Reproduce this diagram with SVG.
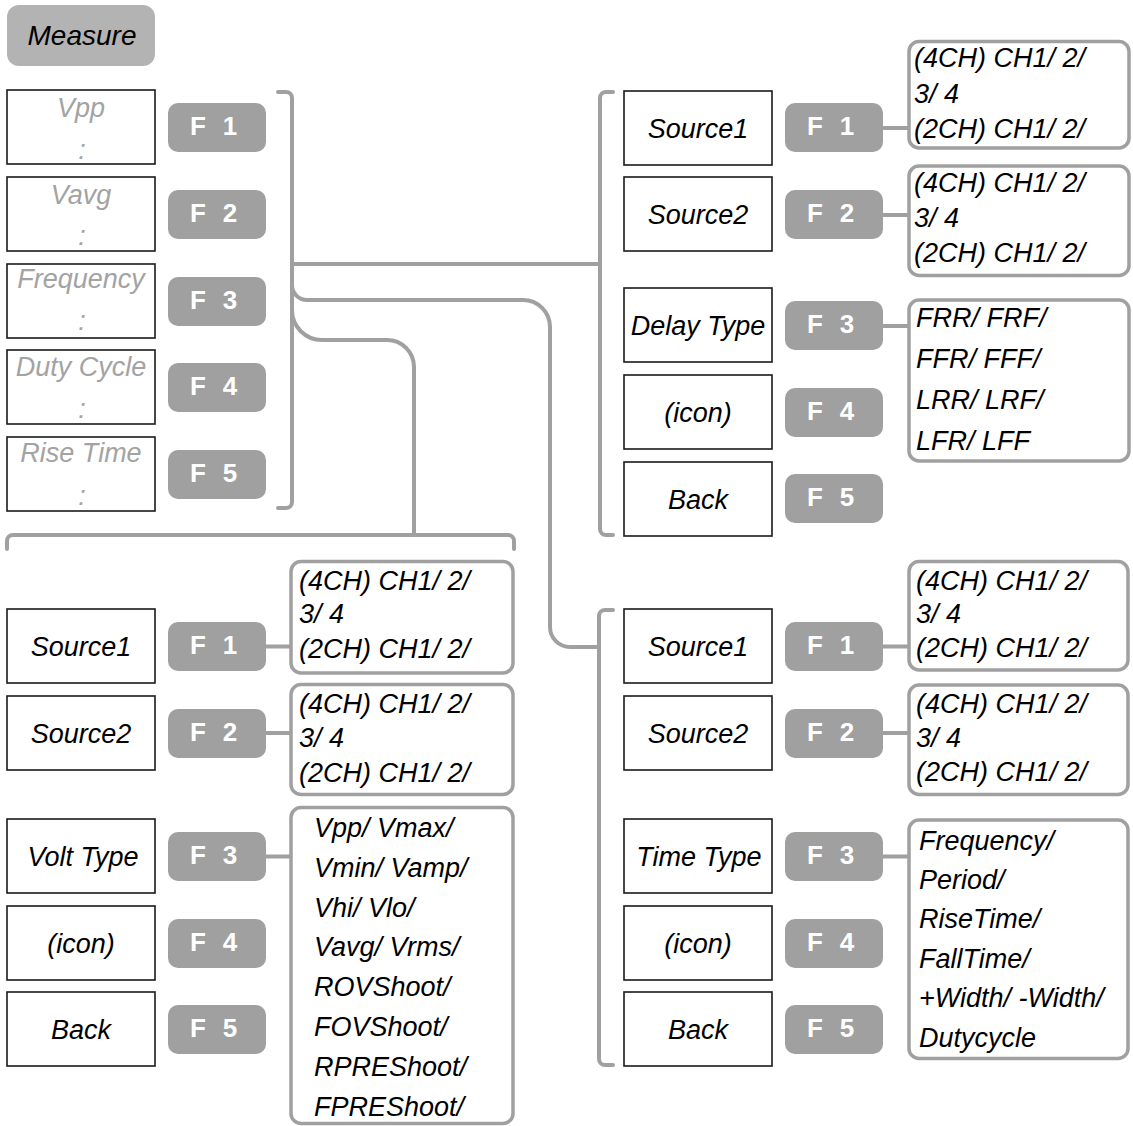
<svg xmlns="http://www.w3.org/2000/svg" width="1133" height="1126" viewBox="0 0 1133 1126">
<style>
text{font-family:"Liberation Sans",Arial,sans-serif}
.menu rect{fill:#fff;stroke:#1a1a1a;stroke-width:1.6}
.menu text{font-style:italic;font-size:27px;text-anchor:middle;fill:#000}
.dim text{fill:#a3a3a3}
.fkey rect{fill:#a0a0a0}
.fkey text{font-weight:bold;font-size:26px;fill:#fff;text-anchor:middle}
.opt rect{fill:#fff;stroke:#a0a0a0;stroke-width:3.5}
.opt text{font-style:italic;font-size:27px;fill:#000}
.conn path{fill:none;stroke:#a0a0a0;stroke-width:4;stroke-linecap:round}
</style>
<rect width="1133" height="1126" fill="#fff"/>

<g id="connectors" class="conn">
<path d="M278,92 H286 A6,6 0 0 1 292,98 V502 A6,6 0 0 1 286,508 H278"/>
<path d="M292,264 H600"/>
<path d="M613,92 H606 A6,6 0 0 0 600,98 V529 A6,6 0 0 0 606,535 H613"/>
<path d="M292,285 A15,15 0 0 0 307,300 H523 A27,27 0 0 1 550,327 V627 A20,20 0 0 0 570,647 H599"/>
<path d="M613,610 H605 A6,6 0 0 0 599,616 V1059 A6,6 0 0 0 605,1065 H613"/>
<path d="M292,310 A30,30 0 0 0 322,340 H387 A27,27 0 0 1 414,367 V535"/>
<path d="M7,549 V541 A6,6 0 0 1 13,535 H508 A6,6 0 0 1 514,541 V549"/>
<path d="M883,128 H909 M883,215 H909 M883,326 H909"/>
<path d="M266,646.5 H291 M266,733 H291 M266,856.5 H291"/>
<path d="M883,646.5 H909 M883,733 H909 M883,856.5 H909"/>
</g>

<g id="measure">
<rect x="7" y="5" width="148" height="61" rx="12" fill="#b3b3b3"/>
<text x="82" y="45" font-size="28" font-style="italic" text-anchor="middle" fill="#000">Measure</text>
</g>

<!-- top-left measurement menu -->
<g id="tl-vpp" class="menu dim"><rect x="7" y="90" width="148" height="74"/><text x="81" y="117">Vpp</text><text x="82" y="159">:</text></g>
<g id="tl-vavg" class="menu dim"><rect x="7" y="177" width="148" height="74"/><text x="81" y="204">Vavg</text><text x="82" y="245">:</text></g>
<g id="tl-freq" class="menu dim"><rect x="7" y="264" width="148" height="74"/><text x="81" y="288">Frequency</text><text x="82" y="330">:</text></g>
<g id="tl-duty" class="menu dim"><rect x="7" y="350" width="148" height="74"/><text x="81" y="376">Duty Cycle</text><text x="82" y="418">:</text></g>
<g id="tl-rise" class="menu dim"><rect x="7" y="437" width="148" height="74"/><text x="81" y="462">Rise Time</text><text x="82" y="505">:</text></g>

<g id="tl-f1" class="fkey"><rect x="168" y="103" width="98" height="49" rx="10"/><text y="134.5"><tspan x="198">F</tspan><tspan x="230">1</tspan></text></g>
<g id="tl-f2" class="fkey"><rect x="168" y="190" width="98" height="49" rx="10"/><text y="221.5"><tspan x="198">F</tspan><tspan x="230">2</tspan></text></g>
<g id="tl-f3" class="fkey"><rect x="168" y="277" width="98" height="49" rx="10"/><text y="308.5"><tspan x="198">F</tspan><tspan x="230">3</tspan></text></g>
<g id="tl-f4" class="fkey"><rect x="168" y="363" width="98" height="49" rx="10"/><text y="394.5"><tspan x="198">F</tspan><tspan x="230">4</tspan></text></g>
<g id="tl-f5" class="fkey"><rect x="168" y="450" width="98" height="49" rx="10"/><text y="481.5"><tspan x="198">F</tspan><tspan x="230">5</tspan></text></g>

<!-- top-right delay menu -->
<g id="tr-src1" class="menu"><rect x="624" y="91" width="148" height="74"/><text x="698" y="138">Source1</text></g>
<g id="tr-src2" class="menu"><rect x="624" y="177" width="148" height="74"/><text x="698" y="224">Source2</text></g>
<g id="tr-type" class="menu"><rect x="624" y="288" width="148" height="74"/><text x="698" y="335">Delay Type</text></g>
<g id="tr-icon" class="menu"><rect x="624" y="375" width="148" height="74"/><text x="698" y="422">(icon)</text></g>
<g id="tr-back" class="menu"><rect x="624" y="462" width="148" height="74"/><text x="698" y="509">Back</text></g>

<g id="tr-f1" class="fkey"><rect x="785" y="103" width="98" height="49" rx="10"/><text y="134.5"><tspan x="815">F</tspan><tspan x="847">1</tspan></text></g>
<g id="tr-f2" class="fkey"><rect x="785" y="190" width="98" height="49" rx="10"/><text y="221.5"><tspan x="815">F</tspan><tspan x="847">2</tspan></text></g>
<g id="tr-f3" class="fkey"><rect x="785" y="301" width="98" height="49" rx="10"/><text y="332.5"><tspan x="815">F</tspan><tspan x="847">3</tspan></text></g>
<g id="tr-f4" class="fkey"><rect x="785" y="388" width="98" height="49" rx="10"/><text y="419.5"><tspan x="815">F</tspan><tspan x="847">4</tspan></text></g>
<g id="tr-f5" class="fkey"><rect x="785" y="474" width="98" height="49" rx="10"/><text y="505.5"><tspan x="815">F</tspan><tspan x="847">5</tspan></text></g>

<g id="tr-opt1" class="opt"><rect x="909" y="41.5" width="220" height="106.5" rx="10"/><text x="914" y="67">(4CH) CH1/ 2/</text><text x="914" y="103">3/ 4</text><text x="914" y="138">(2CH) CH1/ 2/</text></g>
<g id="tr-opt2" class="opt"><rect x="909" y="166" width="220" height="109.5" rx="10"/><text x="914" y="192">(4CH) CH1/ 2/</text><text x="914" y="227">3/ 4</text><text x="914" y="262">(2CH) CH1/ 2/</text></g>
<g id="tr-opt3" class="opt"><rect x="909" y="300" width="220" height="161" rx="10"/><text x="916" y="327">FRR/ FRF/</text><text x="916" y="368">FFR/ FFF/</text><text x="916" y="409">LRR/ LRF/</text><text x="916" y="450">LFR/ LFF</text></g>

<!-- bottom-left volt menu -->
<g id="bl-src1" class="menu"><rect x="7" y="609" width="148" height="74"/><text x="81" y="656">Source1</text></g>
<g id="bl-src2" class="menu"><rect x="7" y="696" width="148" height="74"/><text x="81" y="743">Source2</text></g>
<g id="bl-type" class="menu"><rect x="7" y="819" width="148" height="74"/><text x="83" y="866">Volt Type</text></g>
<g id="bl-icon" class="menu"><rect x="7" y="906" width="148" height="74"/><text x="81" y="953">(icon)</text></g>
<g id="bl-back" class="menu"><rect x="7" y="992" width="148" height="74"/><text x="81" y="1039">Back</text></g>

<g id="bl-f1" class="fkey"><rect x="168" y="622" width="98" height="49" rx="10"/><text y="653.5"><tspan x="198">F</tspan><tspan x="230">1</tspan></text></g>
<g id="bl-f2" class="fkey"><rect x="168" y="709" width="98" height="49" rx="10"/><text y="740.5"><tspan x="198">F</tspan><tspan x="230">2</tspan></text></g>
<g id="bl-f3" class="fkey"><rect x="168" y="832" width="98" height="49" rx="10"/><text y="863.5"><tspan x="198">F</tspan><tspan x="230">3</tspan></text></g>
<g id="bl-f4" class="fkey"><rect x="168" y="919" width="98" height="49" rx="10"/><text y="950.5"><tspan x="198">F</tspan><tspan x="230">4</tspan></text></g>
<g id="bl-f5" class="fkey"><rect x="168" y="1005" width="98" height="49" rx="10"/><text y="1036.5"><tspan x="198">F</tspan><tspan x="230">5</tspan></text></g>

<g id="bl-opt1" class="opt"><rect x="291" y="561.5" width="222" height="111.5" rx="10"/><text x="299" y="590">(4CH) CH1/ 2/</text><text x="299" y="623">3/ 4</text><text x="299" y="658">(2CH) CH1/ 2/</text></g>
<g id="bl-opt2" class="opt"><rect x="291" y="684.5" width="222" height="110" rx="10"/><text x="299" y="713">(4CH) CH1/ 2/</text><text x="299" y="747">3/ 4</text><text x="299" y="782">(2CH) CH1/ 2/</text></g>
<g id="bl-opt3" class="opt"><rect x="291" y="807.5" width="222" height="316" rx="10"/><text x="314" y="837">Vpp/ Vmax/</text><text x="314" y="877">Vmin/ Vamp/</text><text x="314" y="917">Vhi/ Vlo/</text><text x="314" y="956">Vavg/ Vrms/</text><text x="314" y="996">ROVShoot/</text><text x="314" y="1036">FOVShoot/</text><text x="314" y="1076">RPREShoot/</text><text x="314" y="1116">FPREShoot/</text></g>

<!-- bottom-right time menu -->
<g id="br-src1" class="menu"><rect x="624" y="609" width="148" height="74"/><text x="698" y="656">Source1</text></g>
<g id="br-src2" class="menu"><rect x="624" y="696" width="148" height="74"/><text x="698" y="743">Source2</text></g>
<g id="br-type" class="menu"><rect x="624" y="819" width="148" height="74"/><text x="699" y="866">Time Type</text></g>
<g id="br-icon" class="menu"><rect x="624" y="906" width="148" height="74"/><text x="698" y="953">(icon)</text></g>
<g id="br-back" class="menu"><rect x="624" y="992" width="148" height="74"/><text x="698" y="1039">Back</text></g>

<g id="br-f1" class="fkey"><rect x="785" y="622" width="98" height="49" rx="10"/><text y="653.5"><tspan x="815">F</tspan><tspan x="847">1</tspan></text></g>
<g id="br-f2" class="fkey"><rect x="785" y="709" width="98" height="49" rx="10"/><text y="740.5"><tspan x="815">F</tspan><tspan x="847">2</tspan></text></g>
<g id="br-f3" class="fkey"><rect x="785" y="832" width="98" height="49" rx="10"/><text y="863.5"><tspan x="815">F</tspan><tspan x="847">3</tspan></text></g>
<g id="br-f4" class="fkey"><rect x="785" y="919" width="98" height="49" rx="10"/><text y="950.5"><tspan x="815">F</tspan><tspan x="847">4</tspan></text></g>
<g id="br-f5" class="fkey"><rect x="785" y="1005" width="98" height="49" rx="10"/><text y="1036.5"><tspan x="815">F</tspan><tspan x="847">5</tspan></text></g>

<g id="br-opt1" class="opt"><rect x="909" y="561.5" width="219" height="108.5" rx="10"/><text x="916" y="590">(4CH) CH1/ 2/</text><text x="916" y="623">3/ 4</text><text x="916" y="657">(2CH) CH1/ 2/</text></g>
<g id="br-opt2" class="opt"><rect x="909" y="685" width="219" height="109.5" rx="10"/><text x="916" y="713">(4CH) CH1/ 2/</text><text x="916" y="747">3/ 4</text><text x="916" y="781">(2CH) CH1/ 2/</text></g>
<g id="br-opt3" class="opt"><rect x="909" y="820" width="219" height="238.5" rx="10"/><text x="919" y="850">Frequency/</text><text x="919" y="889">Period/</text><text x="919" y="928">RiseTime/</text><text x="919" y="968">FallTime/</text><text x="919" y="1007">+Width/ -Width/</text><text x="919" y="1047">Dutycycle</text></g>
</svg>
